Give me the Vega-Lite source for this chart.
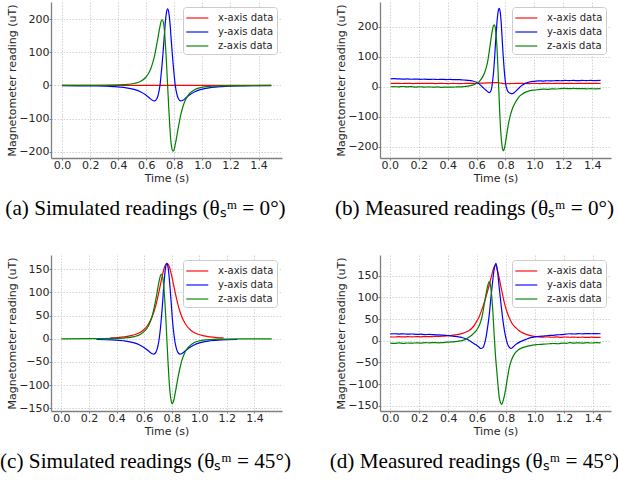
{
"$schema": "https://vega.github.io/schema/vega-lite/v6.json",
"padding": {"left": -3, "top": 2, "right": 0, "bottom": 0},
"columns": 2,
"spacing": {"row": 97, "column": 98},
"bounds": "flush",
"datasets": {
"a": [
{"c":"x","t":0,"v":0},{"c":"x","t":0.75,"v":0},{"c":"x","t":1.49,"v":0},
{"c":"y","t":0.0,"v":-0.2},{"c":"y","t":0.209,"v":-1.3},{"c":"y","t":0.364,"v":-3.3},{"c":"y","t":0.442,"v":-6.0},{"c":"y","t":0.519,"v":-12.4},{"c":"y","t":0.558,"v":-18.8},{"c":"y","t":0.597,"v":-28.9},{"c":"y","t":0.612,"v":-34.2},{"c":"y","t":0.628,"v":-39.8},{"c":"y","t":0.643,"v":-44.7},{"c":"y","t":0.659,"v":-46.7},{"c":"y","t":0.674,"v":-40.8},{"c":"y","t":0.682,"v":-32.5},{"c":"y","t":0.690,"v":-18.8},{"c":"y","t":0.698,"v":1.7},{"c":"y","t":0.705,"v":30.0},{"c":"y","t":0.713,"v":66.1},{"c":"y","t":0.721,"v":108.3},{"c":"y","t":0.729,"v":152.7},{"c":"y","t":0.736,"v":192.7},{"c":"y","t":0.744,"v":220.8},{"c":"y","t":0.752,"v":231},{"c":"y","t":0.760,"v":220.8},{"c":"y","t":0.768,"v":192.7},{"c":"y","t":0.775,"v":152.7},{"c":"y","t":0.783,"v":108.3},{"c":"y","t":0.791,"v":66.1},{"c":"y","t":0.799,"v":30.0},{"c":"y","t":0.806,"v":1.7},{"c":"y","t":0.814,"v":-18.8},{"c":"y","t":0.822,"v":-32.5},{"c":"y","t":0.830,"v":-40.8},{"c":"y","t":0.845,"v":-46.7},{"c":"y","t":0.861,"v":-44.7},{"c":"y","t":0.876,"v":-39.8},{"c":"y","t":0.892,"v":-34.2},{"c":"y","t":0.907,"v":-28.9},{"c":"y","t":0.946,"v":-18.8},{"c":"y","t":0.985,"v":-12.4},{"c":"y","t":1.062,"v":-6.0},{"c":"y","t":1.140,"v":-3.3},{"c":"y","t":1.295,"v":-1.3},{"c":"y","t":1.49,"v":-0.4},
{"c":"z","t":0.0,"v":0},{"c":"z","t":0.209,"v":0.3},{"c":"z","t":0.364,"v":1.0},{"c":"z","t":0.442,"v":2.3},{"c":"z","t":0.519,"v":6.6},{"c":"z","t":0.558,"v":12.2},{"c":"z","t":0.597,"v":24.8},{"c":"z","t":0.612,"v":33.7},{"c":"z","t":0.628,"v":46.4},{"c":"z","t":0.643,"v":64.4},{"c":"z","t":0.659,"v":89.4},{"c":"z","t":0.674,"v":122.5},{"c":"z","t":0.682,"v":141.5},{"c":"z","t":0.690,"v":161.0},{"c":"z","t":0.698,"v":179.0},{"c":"z","t":0.705,"v":192.8},{"c":"z","t":0.713,"v":198.4},{"c":"z","t":0.721,"v":191.3},{"c":"z","t":0.729,"v":167.6},{"c":"z","t":0.736,"v":125.7},{"c":"z","t":0.744,"v":67.6},{"c":"z","t":0.752,"v":0},{"c":"z","t":0.760,"v":-67.6},{"c":"z","t":0.768,"v":-125.7},{"c":"z","t":0.775,"v":-167.6},{"c":"z","t":0.783,"v":-191.3},{"c":"z","t":0.791,"v":-198.4},{"c":"z","t":0.799,"v":-192.8},{"c":"z","t":0.806,"v":-179.0},{"c":"z","t":0.814,"v":-161.0},{"c":"z","t":0.822,"v":-141.5},{"c":"z","t":0.830,"v":-122.5},{"c":"z","t":0.845,"v":-89.4},{"c":"z","t":0.861,"v":-64.4},{"c":"z","t":0.876,"v":-46.4},{"c":"z","t":0.892,"v":-33.7},{"c":"z","t":0.907,"v":-24.8},{"c":"z","t":0.946,"v":-12.2},{"c":"z","t":0.985,"v":-6.6},{"c":"z","t":1.062,"v":-2.3},{"c":"z","t":1.140,"v":-1.0},{"c":"z","t":1.295,"v":-0.3},{"c":"z","t":1.49,"v":0}
],
"b": [
{"c":"x","t":0.005,"v":11},{"c":"x","t":0.04,"v":11.5},{"c":"x","t":0.08,"v":10.8},{"c":"x","t":0.12,"v":11.3},{"c":"x","t":0.16,"v":10.6},{"c":"x","t":0.2,"v":11.2},{"c":"x","t":0.24,"v":10.9},{"c":"x","t":0.28,"v":11.4},{"c":"x","t":0.32,"v":10.7},{"c":"x","t":0.36,"v":11.1},{"c":"x","t":0.4,"v":10.5},{"c":"x","t":0.44,"v":11},{"c":"x","t":0.48,"v":10.6},{"c":"x","t":0.52,"v":10.9},{"c":"x","t":0.56,"v":11.3},{"c":"x","t":0.6,"v":11.5},{"c":"x","t":0.64,"v":12},{"c":"x","t":0.68,"v":12.8},{"c":"x","t":0.71,"v":13.5},{"c":"x","t":0.73,"v":14},{"c":"x","t":0.75,"v":13.5},{"c":"x","t":0.77,"v":12},{"c":"x","t":0.79,"v":10.5},{"c":"x","t":0.81,"v":10},{"c":"x","t":0.84,"v":10.8},{"c":"x","t":0.88,"v":11.3},{"c":"x","t":0.92,"v":11},{"c":"x","t":0.96,"v":10.6},{"c":"x","t":1.0,"v":11},{"c":"x","t":1.04,"v":10.7},{"c":"x","t":1.08,"v":11.2},{"c":"x","t":1.12,"v":10.8},{"c":"x","t":1.16,"v":11.3},{"c":"x","t":1.2,"v":10.9},{"c":"x","t":1.24,"v":11.2},{"c":"x","t":1.28,"v":10.8},{"c":"x","t":1.32,"v":11.3},{"c":"x","t":1.36,"v":11},{"c":"x","t":1.4,"v":11.4},{"c":"x","t":1.44,"v":11},{"c":"x","t":1.458,"v":11.2},
{"c":"y","t":0.005,"v":26.5},{"c":"y","t":0.03,"v":27},{"c":"y","t":0.06,"v":26},{"c":"y","t":0.09,"v":25.5},{"c":"y","t":0.12,"v":26},{"c":"y","t":0.15,"v":25},{"c":"y","t":0.18,"v":25.5},{"c":"y","t":0.21,"v":24.8},{"c":"y","t":0.24,"v":25.3},{"c":"y","t":0.27,"v":24.5},{"c":"y","t":0.3,"v":25},{"c":"y","t":0.33,"v":24.2},{"c":"y","t":0.36,"v":24.8},{"c":"y","t":0.39,"v":24},{"c":"y","t":0.42,"v":24.5},{"c":"y","t":0.45,"v":23.5},{"c":"y","t":0.48,"v":23.8},{"c":"y","t":0.51,"v":22.5},{"c":"y","t":0.54,"v":21.5},{"c":"y","t":0.57,"v":19.5},{"c":"y","t":0.6,"v":15},{"c":"y","t":0.618,"v":9.5},{"c":"y","t":0.64,"v":-1},{"c":"y","t":0.664,"v":-11},{"c":"y","t":0.678,"v":-17},{"c":"y","t":0.689,"v":-19.5},{"c":"y","t":0.697,"v":-16},{"c":"y","t":0.703,"v":-8},{"c":"y","t":0.71,"v":15},{"c":"y","t":0.717,"v":45},{"c":"y","t":0.724,"v":90},{"c":"y","t":0.731,"v":145},{"c":"y","t":0.738,"v":195},{"c":"y","t":0.745,"v":235},{"c":"y","t":0.751,"v":256},{"c":"y","t":0.757,"v":262},{"c":"y","t":0.764,"v":248},{"c":"y","t":0.771,"v":210},{"c":"y","t":0.777,"v":160},{"c":"y","t":0.784,"v":105},{"c":"y","t":0.791,"v":58},{"c":"y","t":0.798,"v":22},{"c":"y","t":0.805,"v":0},{"c":"y","t":0.813,"v":-12},{"c":"y","t":0.822,"v":-19},{"c":"y","t":0.835,"v":-22},{"c":"y","t":0.848,"v":-23},{"c":"y","t":0.862,"v":-19},{"c":"y","t":0.877,"v":-12},{"c":"y","t":0.892,"v":-5},{"c":"y","t":0.907,"v":2},{"c":"y","t":0.922,"v":7},{"c":"y","t":0.94,"v":12},{"c":"y","t":0.96,"v":15},{"c":"y","t":0.98,"v":17},{"c":"y","t":1.0,"v":18},{"c":"y","t":1.03,"v":19.5},{"c":"y","t":1.06,"v":19},{"c":"y","t":1.09,"v":20},{"c":"y","t":1.12,"v":19.5},{"c":"y","t":1.15,"v":20.5},{"c":"y","t":1.18,"v":20},{"c":"y","t":1.21,"v":21},{"c":"y","t":1.24,"v":20.5},{"c":"y","t":1.27,"v":21},{"c":"y","t":1.3,"v":20.3},{"c":"y","t":1.33,"v":21},{"c":"y","t":1.36,"v":20.5},{"c":"y","t":1.39,"v":21.2},{"c":"y","t":1.42,"v":20.5},{"c":"y","t":1.458,"v":21},
{"c":"z","t":0.005,"v":0},{"c":"z","t":0.03,"v":0.5},{"c":"z","t":0.06,"v":-0.5},{"c":"z","t":0.09,"v":0.8},{"c":"z","t":0.12,"v":-0.3},{"c":"z","t":0.15,"v":0.5},{"c":"z","t":0.18,"v":-1},{"c":"z","t":0.21,"v":0},{"c":"z","t":0.24,"v":-1.2},{"c":"z","t":0.27,"v":-0.4},{"c":"z","t":0.3,"v":-1.5},{"c":"z","t":0.33,"v":-0.6},{"c":"z","t":0.36,"v":-1.8},{"c":"z","t":0.39,"v":-1},{"c":"z","t":0.42,"v":-1.5},{"c":"z","t":0.45,"v":-0.8},{"c":"z","t":0.48,"v":-0.5},{"c":"z","t":0.51,"v":0.5},{"c":"z","t":0.54,"v":2},{"c":"z","t":0.572,"v":5.5},{"c":"z","t":0.598,"v":11},{"c":"z","t":0.618,"v":17},{"c":"z","t":0.641,"v":32},{"c":"z","t":0.654,"v":45},{"c":"z","t":0.666,"v":62},{"c":"z","t":0.679,"v":90},{"c":"z","t":0.691,"v":130},{"c":"z","t":0.697,"v":150},{"c":"z","t":0.703,"v":171},{"c":"z","t":0.71,"v":190},{"c":"z","t":0.716,"v":203},{"c":"z","t":0.722,"v":207},{"c":"z","t":0.728,"v":201},{"c":"z","t":0.734,"v":178},{"c":"z","t":0.741,"v":133},{"c":"z","t":0.747,"v":72},{"c":"z","t":0.753,"v":0},{"c":"z","t":0.759,"v":-72},{"c":"z","t":0.765,"v":-133},{"c":"z","t":0.772,"v":-178},{"c":"z","t":0.778,"v":-203},{"c":"z","t":0.784,"v":-214},{"c":"z","t":0.79,"v":-210},{"c":"z","t":0.796,"v":-198},{"c":"z","t":0.803,"v":-178},{"c":"z","t":0.81,"v":-155},{"c":"z","t":0.818,"v":-131},{"c":"z","t":0.826,"v":-111},{"c":"z","t":0.837,"v":-90},{"c":"z","t":0.849,"v":-72},{"c":"z","t":0.865,"v":-55},{"c":"z","t":0.88,"v":-43},{"c":"z","t":0.895,"v":-33},{"c":"z","t":0.915,"v":-25},{"c":"z","t":0.94,"v":-18},{"c":"z","t":0.97,"v":-13},{"c":"z","t":1.0,"v":-11},{"c":"z","t":1.03,"v":-9.5},{"c":"z","t":1.06,"v":-8},{"c":"z","t":1.09,"v":-8.5},{"c":"z","t":1.12,"v":-7},{"c":"z","t":1.15,"v":-7.5},{"c":"z","t":1.18,"v":-6},{"c":"z","t":1.21,"v":-5.5},{"c":"z","t":1.24,"v":-6.5},{"c":"z","t":1.27,"v":-5.5},{"c":"z","t":1.3,"v":-6.5},{"c":"z","t":1.33,"v":-6},{"c":"z","t":1.36,"v":-7},{"c":"z","t":1.39,"v":-6.5},{"c":"z","t":1.42,"v":-7},{"c":"z","t":1.458,"v":-6.5}
],
"c": [
{"c":"x","t":0.356,"v":1.9},{"c":"x","t":0.406,"v":2.7},{"c":"x","t":0.456,"v":4.2},{"c":"x","t":0.506,"v":6.7},{"c":"x","t":0.546,"v":10.3},{"c":"x","t":0.576,"v":14.8},{"c":"x","t":0.606,"v":21.9},{"c":"x","t":0.626,"v":29.2},{"c":"x","t":0.646,"v":39.4},{"c":"x","t":0.666,"v":53.7},{"c":"x","t":0.676,"v":62.8},{"c":"x","t":0.686,"v":73.4},{"c":"x","t":0.696,"v":85.5},{"c":"x","t":0.706,"v":99},{"c":"x","t":0.716,"v":113.3},{"c":"x","t":0.726,"v":127.9},{"c":"x","t":0.736,"v":141.5},{"c":"x","t":0.746,"v":152.8},{"c":"x","t":0.756,"v":160.4},{"c":"x","t":0.766,"v":163},{"c":"x","t":0.776,"v":160.4},{"c":"x","t":0.786,"v":152.8},{"c":"x","t":0.796,"v":141.5},{"c":"x","t":0.806,"v":127.9},{"c":"x","t":0.816,"v":113.3},{"c":"x","t":0.826,"v":99},{"c":"x","t":0.836,"v":85.5},{"c":"x","t":0.846,"v":73.4},{"c":"x","t":0.856,"v":62.8},{"c":"x","t":0.866,"v":53.7},{"c":"x","t":0.886,"v":39.4},{"c":"x","t":0.906,"v":29.2},{"c":"x","t":0.926,"v":21.9},{"c":"x","t":0.956,"v":14.8},{"c":"x","t":0.986,"v":10.3},{"c":"x","t":1.026,"v":6.7},{"c":"x","t":1.076,"v":4.2},{"c":"x","t":1.126,"v":2.7},{"c":"x","t":1.176,"v":1.9},
{"c":"y","t":0.255,"v":-1.5},{"c":"y","t":0.371,"v":-2.3},{"c":"y","t":0.450,"v":-4.2},{"c":"y","t":0.529,"v":-8.8},{"c":"y","t":0.568,"v":-13.3},{"c":"y","t":0.607,"v":-20.4},{"c":"y","t":0.623,"v":-24.1},{"c":"y","t":0.639,"v":-28.1},{"c":"y","t":0.655,"v":-31.6},{"c":"y","t":0.670,"v":-33.0},{"c":"y","t":0.686,"v":-28.8},{"c":"y","t":0.694,"v":-22.9},{"c":"y","t":0.702,"v":-13.3},{"c":"y","t":0.710,"v":1.2},{"c":"y","t":0.718,"v":21.2},{"c":"y","t":0.726,"v":46.6},{"c":"y","t":0.734,"v":76.4},{"c":"y","t":0.741,"v":107.7},{"c":"y","t":0.749,"v":135.9},{"c":"y","t":0.757,"v":155.8},{"c":"y","t":0.765,"v":163},{"c":"y","t":0.773,"v":155.8},{"c":"y","t":0.781,"v":135.9},{"c":"y","t":0.789,"v":107.7},{"c":"y","t":0.797,"v":76.4},{"c":"y","t":0.804,"v":46.6},{"c":"y","t":0.812,"v":21.2},{"c":"y","t":0.820,"v":1.2},{"c":"y","t":0.828,"v":-13.3},{"c":"y","t":0.836,"v":-22.9},{"c":"y","t":0.844,"v":-28.8},{"c":"y","t":0.860,"v":-33.0},{"c":"y","t":0.875,"v":-31.6},{"c":"y","t":0.891,"v":-28.1},{"c":"y","t":0.907,"v":-24.1},{"c":"y","t":0.923,"v":-20.4},{"c":"y","t":0.962,"v":-13.3},{"c":"y","t":1.001,"v":-8.8},{"c":"y","t":1.080,"v":-4.2},{"c":"y","t":1.159,"v":-2.3},{"c":"y","t":1.275,"v":-1.5},
{"c":"z","t":0.0,"v":0},{"c":"z","t":0.213,"v":0.2},{"c":"z","t":0.371,"v":0.7},{"c":"z","t":0.450,"v":1.6},{"c":"z","t":0.529,"v":4.6},{"c":"z","t":0.568,"v":8.6},{"c":"z","t":0.607,"v":17.5},{"c":"z","t":0.623,"v":23.8},{"c":"z","t":0.639,"v":32.7},{"c":"z","t":0.655,"v":45.4},{"c":"z","t":0.670,"v":63.1},{"c":"z","t":0.686,"v":86.4},{"c":"z","t":0.694,"v":99.9},{"c":"z","t":0.702,"v":113.6},{"c":"z","t":0.710,"v":126.3},{"c":"z","t":0.718,"v":136.0},{"c":"z","t":0.726,"v":140.0},{"c":"z","t":0.734,"v":135.0},{"c":"z","t":0.741,"v":118.3},{"c":"z","t":0.749,"v":88.7},{"c":"z","t":0.757,"v":47.7},{"c":"z","t":0.765,"v":0},{"c":"z","t":0.773,"v":-47.7},{"c":"z","t":0.781,"v":-88.7},{"c":"z","t":0.789,"v":-118.3},{"c":"z","t":0.797,"v":-135.0},{"c":"z","t":0.804,"v":-140.0},{"c":"z","t":0.812,"v":-136.0},{"c":"z","t":0.820,"v":-126.3},{"c":"z","t":0.828,"v":-113.6},{"c":"z","t":0.836,"v":-99.9},{"c":"z","t":0.844,"v":-86.4},{"c":"z","t":0.860,"v":-63.1},{"c":"z","t":0.875,"v":-45.4},{"c":"z","t":0.891,"v":-32.7},{"c":"z","t":0.907,"v":-23.8},{"c":"z","t":0.923,"v":-17.5},{"c":"z","t":0.962,"v":-8.6},{"c":"z","t":1.001,"v":-4.6},{"c":"z","t":1.080,"v":-1.6},{"c":"z","t":1.159,"v":-0.7},{"c":"z","t":1.317,"v":-0.2},{"c":"z","t":1.525,"v":0}
],
"d": [
{"c":"x","t":0.0,"v":9},{"c":"x","t":0.03,"v":8.5},{"c":"x","t":0.06,"v":9.2},{"c":"x","t":0.09,"v":8.7},{"c":"x","t":0.12,"v":9.3},{"c":"x","t":0.15,"v":8.8},{"c":"x","t":0.18,"v":9.5},{"c":"x","t":0.21,"v":9},{"c":"x","t":0.24,"v":9.6},{"c":"x","t":0.27,"v":9.2},{"c":"x","t":0.3,"v":9.8},{"c":"x","t":0.33,"v":10},{"c":"x","t":0.36,"v":10.5},{"c":"x","t":0.39,"v":11.2},{"c":"x","t":0.42,"v":12},{"c":"x","t":0.45,"v":13.5},{"c":"x","t":0.48,"v":15.3},{"c":"x","t":0.5,"v":17},{"c":"x","t":0.52,"v":19.5},{"c":"x","t":0.545,"v":23.6},{"c":"x","t":0.57,"v":31},{"c":"x","t":0.591,"v":41},{"c":"x","t":0.615,"v":56},{"c":"x","t":0.637,"v":75.6},{"c":"x","t":0.66,"v":100},{"c":"x","t":0.684,"v":129},{"c":"x","t":0.697,"v":146},{"c":"x","t":0.707,"v":159},{"c":"x","t":0.716,"v":169},{"c":"x","t":0.725,"v":174},{"c":"x","t":0.733,"v":171},{"c":"x","t":0.742,"v":160},{"c":"x","t":0.753,"v":144},{"c":"x","t":0.764,"v":125},{"c":"x","t":0.776,"v":106},{"c":"x","t":0.79,"v":85},{"c":"x","t":0.805,"v":68},{"c":"x","t":0.822,"v":52.7},{"c":"x","t":0.845,"v":38},{"c":"x","t":0.868,"v":29.8},{"c":"x","t":0.89,"v":23},{"c":"x","t":0.914,"v":18},{"c":"x","t":0.95,"v":13.5},{"c":"x","t":0.984,"v":10.5},{"c":"x","t":1.02,"v":9.2},{"c":"x","t":1.053,"v":8.3},{"c":"x","t":1.09,"v":8.8},{"c":"x","t":1.12,"v":8},{"c":"x","t":1.15,"v":8.6},{"c":"x","t":1.18,"v":7.8},{"c":"x","t":1.21,"v":8.5},{"c":"x","t":1.24,"v":7.9},{"c":"x","t":1.27,"v":8.4},{"c":"x","t":1.3,"v":7.6},{"c":"x","t":1.33,"v":8.2},{"c":"x","t":1.36,"v":7.5},{"c":"x","t":1.39,"v":8.1},{"c":"x","t":1.42,"v":7.5},{"c":"x","t":1.453,"v":7.8},
{"c":"y","t":0.0,"v":15.5},{"c":"y","t":0.03,"v":16},{"c":"y","t":0.06,"v":15.3},{"c":"y","t":0.09,"v":15.8},{"c":"y","t":0.12,"v":15},{"c":"y","t":0.15,"v":15.4},{"c":"y","t":0.18,"v":14.6},{"c":"y","t":0.21,"v":15},{"c":"y","t":0.24,"v":14.2},{"c":"y","t":0.27,"v":14.5},{"c":"y","t":0.3,"v":13.8},{"c":"y","t":0.33,"v":13.5},{"c":"y","t":0.36,"v":12.9},{"c":"y","t":0.39,"v":12},{"c":"y","t":0.42,"v":11},{"c":"y","t":0.45,"v":10},{"c":"y","t":0.48,"v":8.3},{"c":"y","t":0.5,"v":6.9},{"c":"y","t":0.53,"v":3.5},{"c":"y","t":0.568,"v":-4.6},{"c":"y","t":0.59,"v":-9},{"c":"y","t":0.61,"v":-14},{"c":"y","t":0.626,"v":-18},{"c":"y","t":0.64,"v":-16},{"c":"y","t":0.652,"v":-6},{"c":"y","t":0.661,"v":6.9},{"c":"y","t":0.672,"v":30},{"c":"y","t":0.684,"v":60},{"c":"y","t":0.695,"v":98},{"c":"y","t":0.707,"v":136},{"c":"y","t":0.718,"v":165},{"c":"y","t":0.73,"v":178},{"c":"y","t":0.741,"v":160},{"c":"y","t":0.753,"v":121},{"c":"y","t":0.765,"v":85},{"c":"y","t":0.776,"v":52.7},{"c":"y","t":0.788,"v":25},{"c":"y","t":0.8,"v":5},{"c":"y","t":0.811,"v":-8.5},{"c":"y","t":0.822,"v":-15},{"c":"y","t":0.834,"v":-18},{"c":"y","t":0.85,"v":-14},{"c":"y","t":0.868,"v":-8.5},{"c":"y","t":0.9,"v":-2},{"c":"y","t":0.937,"v":3},{"c":"y","t":0.97,"v":7},{"c":"y","t":1.0,"v":9},{"c":"y","t":1.053,"v":10.5},{"c":"y","t":1.09,"v":12},{"c":"y","t":1.12,"v":12.5},{"c":"y","t":1.15,"v":13.5},{"c":"y","t":1.18,"v":14},{"c":"y","t":1.21,"v":15},{"c":"y","t":1.238,"v":16},{"c":"y","t":1.27,"v":15.5},{"c":"y","t":1.3,"v":16.2},{"c":"y","t":1.33,"v":15.8},{"c":"y","t":1.36,"v":16.5},{"c":"y","t":1.39,"v":16},{"c":"y","t":1.42,"v":16.4},{"c":"y","t":1.453,"v":16},
{"c":"z","t":0.0,"v":-5.5},{"c":"z","t":0.03,"v":-6},{"c":"z","t":0.06,"v":-5},{"c":"z","t":0.09,"v":-6.2},{"c":"z","t":0.12,"v":-5.3},{"c":"z","t":0.15,"v":-5.8},{"c":"z","t":0.18,"v":-4.8},{"c":"z","t":0.21,"v":-5.5},{"c":"z","t":0.24,"v":-4.5},{"c":"z","t":0.27,"v":-5},{"c":"z","t":0.3,"v":-4.2},{"c":"z","t":0.33,"v":-4.8},{"c":"z","t":0.36,"v":-4.6},{"c":"z","t":0.39,"v":-3.5},{"c":"z","t":0.42,"v":-2.8},{"c":"z","t":0.45,"v":-2},{"c":"z","t":0.48,"v":-0.5},{"c":"z","t":0.5,"v":0.7},{"c":"z","t":0.52,"v":3},{"c":"z","t":0.545,"v":8.3},{"c":"z","t":0.57,"v":15},{"c":"z","t":0.591,"v":22},{"c":"z","t":0.61,"v":32},{"c":"z","t":0.626,"v":45},{"c":"z","t":0.638,"v":62},{"c":"z","t":0.649,"v":83},{"c":"z","t":0.661,"v":106},{"c":"z","t":0.672,"v":125},{"c":"z","t":0.684,"v":136},{"c":"z","t":0.692,"v":128},{"c":"z","t":0.7,"v":106},{"c":"z","t":0.71,"v":60},{"c":"z","t":0.719,"v":7},{"c":"z","t":0.727,"v":-35},{"c":"z","t":0.736,"v":-70},{"c":"z","t":0.745,"v":-105},{"c":"z","t":0.753,"v":-131},{"c":"z","t":0.762,"v":-143},{"c":"z","t":0.771,"v":-147},{"c":"z","t":0.78,"v":-138},{"c":"z","t":0.79,"v":-125},{"c":"z","t":0.799,"v":-108},{"c":"z","t":0.81,"v":-85},{"c":"z","t":0.822,"v":-62},{"c":"z","t":0.838,"v":-44},{"c":"z","t":0.857,"v":-31},{"c":"z","t":0.885,"v":-21},{"c":"z","t":0.914,"v":-16},{"c":"z","t":0.95,"v":-12.5},{"c":"z","t":0.984,"v":-10},{"c":"z","t":1.02,"v":-8.8},{"c":"z","t":1.06,"v":-8},{"c":"z","t":1.1,"v":-7},{"c":"z","t":1.13,"v":-6.5},{"c":"z","t":1.16,"v":-7},{"c":"z","t":1.19,"v":-5.5},{"c":"z","t":1.22,"v":-6},{"c":"z","t":1.238,"v":-4.6},{"c":"z","t":1.27,"v":-5.5},{"c":"z","t":1.3,"v":-4.8},{"c":"z","t":1.33,"v":-5.6},{"c":"z","t":1.36,"v":-4.5},{"c":"z","t":1.39,"v":-5.3},{"c":"z","t":1.42,"v":-4.6},{"c":"z","t":1.453,"v":-5.2}
]
},
"concat": [
{
"width": 231, "height": 156,
"data": {"name": "a"},
"title": {"text": "(a)  Simulated readings (θₛᵐ = 0°)"},
"mark": {"type": "line", "strokeWidth": 1.2, "interpolate": "monotone"},
"encoding": {
"x": {"field": "t", "type": "quantitative", "scale": {"domain": [-0.079, 1.567], "nice": false, "zero": false}, "axis": {"values": [0,0.2,0.4,0.6,0.8,1.0,1.2,1.4], "format": ".1f", "title": "Time (s)"}},
"y": {"field": "v", "type": "quantitative", "scale": {"domain": [-219, 252], "nice": false, "zero": false}, "axis": {"values": [-200,-100,0,100,200], "title": "Magnetometer reading (uT)"}},
"color": {"field": "c", "type": "nominal", "scale": {"domain": ["x","y","z"], "range": ["#ff0000","#0000ff","#008000"]}, "legend": {"labelExpr": "datum.label + '-axis data'"}}
}
},
{
"width": 231, "height": 156,
"data": {"name": "b"},
"title": {"text": "(b)  Measured readings (θₛᵐ = 0°)"},
"mark": {"type": "line", "strokeWidth": 1.2, "interpolate": "monotone"},
"encoding": {
"x": {"field": "t", "type": "quantitative", "scale": {"domain": [-0.068, 1.53], "nice": false, "zero": false}, "axis": {"values": [0,0.2,0.4,0.6,0.8,1.0,1.2,1.4], "format": ".1f", "title": "Time (s)"}},
"y": {"field": "v", "type": "quantitative", "scale": {"domain": [-238, 283], "nice": false, "zero": false}, "axis": {"values": [-200,-100,0,100,200], "title": "Magnetometer reading (uT)"}},
"color": {"field": "c", "type": "nominal", "scale": {"domain": ["x","y","z"], "range": ["#ff0000","#0000ff","#008000"]}, "legend": {"labelExpr": "datum.label + '-axis data'"}}
}
},
{
"width": 231, "height": 156,
"data": {"name": "c"},
"title": {"text": "(c)  Simulated readings (θₛᵐ = 45°)"},
"mark": {"type": "line", "strokeWidth": 1.2, "interpolate": "monotone"},
"encoding": {
"x": {"field": "t", "type": "quantitative", "scale": {"domain": [-0.075, 1.6], "nice": false, "zero": false}, "axis": {"values": [0,0.2,0.4,0.6,0.8,1.0,1.2,1.4], "format": ".1f", "title": "Time (s)"}},
"y": {"field": "v", "type": "quantitative", "scale": {"domain": [-156, 181], "nice": false, "zero": false}, "axis": {"values": [-150,-100,-50,0,50,100,150], "title": "Magnetometer reading (uT)"}},
"color": {"field": "c", "type": "nominal", "scale": {"domain": ["x","y","z"], "range": ["#ff0000","#0000ff","#008000"]}, "legend": {"labelExpr": "datum.label + '-axis data'"}}
}
},
{
"width": 231, "height": 156,
"data": {"name": "d"},
"title": {"text": "(d)  Measured readings (θₛᵐ = 45°)"},
"mark": {"type": "line", "strokeWidth": 1.2, "interpolate": "monotone"},
"encoding": {
"x": {"field": "t", "type": "quantitative", "scale": {"domain": [-0.071, 1.525], "nice": false, "zero": false}, "axis": {"values": [0,0.2,0.4,0.6,0.8,1.0,1.2,1.4], "format": ".1f", "title": "Time (s)"}},
"y": {"field": "v", "type": "quantitative", "scale": {"domain": [-162, 197.5], "nice": false, "zero": false}, "axis": {"values": [-150,-100,-50,0,50,100,150], "title": "Magnetometer reading (uT)"}},
"color": {"field": "c", "type": "nominal", "scale": {"domain": ["x","y","z"], "range": ["#ff0000","#0000ff","#008000"]}, "legend": {"labelExpr": "datum.label + '-axis data'"}}
}
}
],
"resolve": {"scale": {"color": "independent"}},
"config": {
"font": "DejaVu Sans",
"background": "white",
"view": {"stroke": null},
"title": {"orient": "bottom", "anchor": "middle", "font": "Liberation Serif", "fontSize": 21.2, "fontWeight": "normal", "color": "#000000", "offset": 15, "dx": -21},
"axis": {"labelFont": "DejaVu Sans", "labelFontSize": 11, "labelColor": "#262626", "titleFont": "DejaVu Sans", "titleFontSize": 11, "titleFontWeight": "normal", "titleColor": "#262626", "domainColor": "#7f7f7f", "domainWidth": 1.3, "tickColor": "#7f7f7f", "tickSize": 2, "tickWidth": 1, "gridColor": "#c8c8c8", "gridDash": [1.5, 1.5], "gridWidth": 0.8},
"axisX": {"labelPadding": -1, "titlePadding": 2},
"axisY": {"labelPadding": 0, "titlePadding": 1},
"legend": {"title": null, "orient": "top-right", "offset": 5, "fillColor": "white", "strokeColor": "#cccccc", "cornerRadius": 3, "padding": 3, "labelFont": "DejaVu Sans", "labelFontSize": 10, "labelColor": "#262626", "symbolType": "M-1.1,0L2.04,0", "symbolSize": 196, "symbolStrokeWidth": 1.5, "symbolOpacity": 0.75, "rowPadding": 1, "labelOffset": 16}
}
}
